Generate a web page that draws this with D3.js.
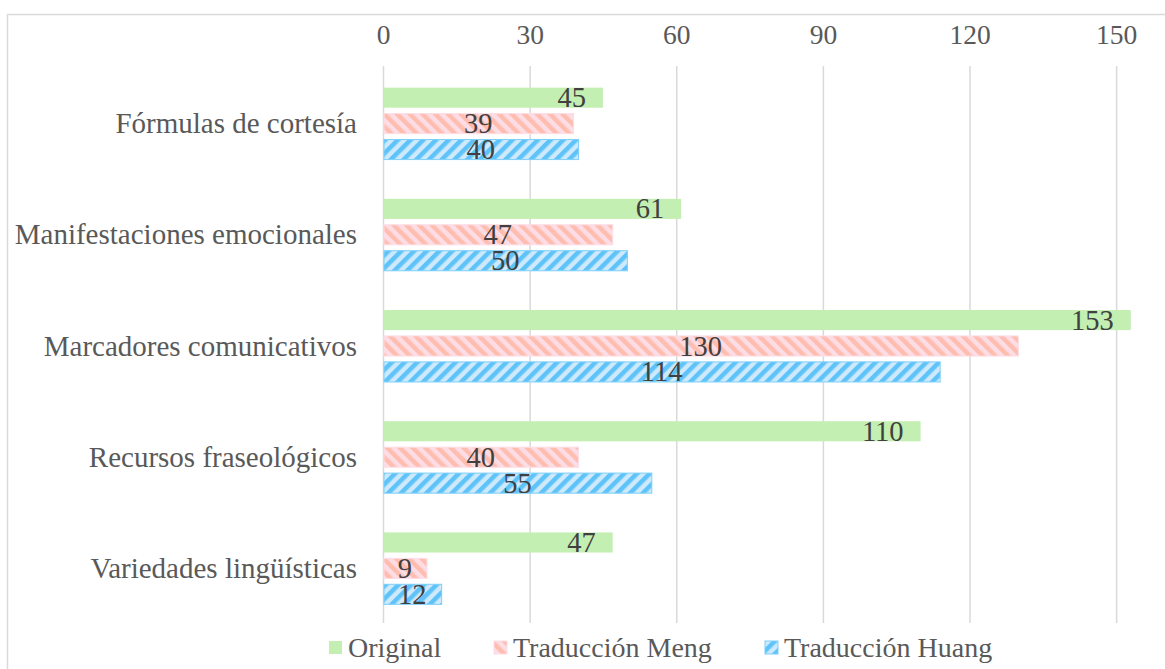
<!DOCTYPE html>
<html><head><meta charset="utf-8">
<script src="https://cdn.jsdelivr.net/npm/d3@7"></script>
<style>body{margin:0;background:#fff;} text{font-family:"Liberation Serif","Times New Roman",serif;}</style>
</head><body>
<svg id="c" width="1165" height="669"></svg>
<script>
const categories = ["Fórmulas de cortesía","Manifestaciones emocionales","Marcadores comunicativos","Recursos fraseológicos","Variedades lingüísticas"];
const series = ["Original","Traducción Meng","Traducción Huang"];
const original = [45,61,153,110,47];
const meng = [39,47,130,40,9];
const huang = [40,50,114,55,12];
const ticks = [0,30,60,90,120,150];

const svg = d3.select("#c");
const defs = svg.append("defs");
function stripes(id, bg, fg, angle){
  const p = defs.append("pattern").attr("id",id).attr("patternUnits","userSpaceOnUse")
    .attr("width",9).attr("height",9).attr("patternTransform",`rotate(${angle})`);
  p.append("rect").attr("width",9).attr("height",9).attr("fill",bg);
  p.append("rect").attr("width",4.5).attr("height",9).attr("fill",fg);
}
stripes("pMeng","#fddde5","#ffbdb0",-45);
stripes("pHuang","#cde9fb","#5ec3f8",45);

const fills = ["#c4efb2","url(#pMeng)","url(#pHuang)"];
const strokes = ["none","#fddde5","#7dcff9"];
const data = [original, meng, huang];

// frame
svg.append("rect").attr("x",7.5).attr("y",14.5).attr("width",1200).attr("height",700)
  .attr("fill","none").attr("stroke","#d9d9d9").attr("stroke-width",1.5);

const x = d3.scaleLinear().domain([0,160]).range([383,1165]);
const y = d3.scaleBand().domain(categories).range([68,624]).paddingInner(0.353).paddingOuter(0.1765);
const yi = d3.scaleBand().domain(series).range([0,y.bandwidth()]).paddingInner(0.225);

// grid
svg.append("g").selectAll("line").data(ticks).join("line")
  .attr("x1",d=>x(d)+0.5).attr("x2",d=>x(d)+0.5).attr("y1",66).attr("y2",623)
  .attr("stroke","#d9d9d9").attr("stroke-width",1.5);

// top axis
const ax = svg.append("g").attr("transform","translate(0,44)")
  .call(d3.axisTop(x).tickValues(ticks).tickSize(0).tickPadding(0));
ax.select(".domain").remove();
ax.selectAll("text").attr("font-size",27.5).attr("fill","#595959").attr("font-family","Liberation Serif");

// category labels
svg.append("g").selectAll("text").data(categories).join("text")
  .attr("x",357).attr("y",d=>y(d)+y.bandwidth()/2+9.5).attr("text-anchor","end")
  .attr("font-size",29).attr("fill","#595959").text(d=>d);

// bars
series.forEach((s,si)=>{
  const g = svg.append("g");
  g.selectAll("rect").data(categories).join("rect")
    .attr("x",x(0)+1).attr("y",(c)=>y(c)+yi(s))
    .attr("width",(c,i)=>x(data[si][i])-x(0)-1).attr("height",yi.bandwidth())
    .attr("fill",fills[si]).attr("stroke",strokes[si]).attr("stroke-width",1);
  g.selectAll("text").data(categories).join("text")
    .attr("x",(c,i)=> si===0 ? x(data[si][i])-17 : (x(0)+x(data[si][i]))/2)
    .attr("y",c=>y(c)+yi(s)+yi.bandwidth()/2+9.5)
    .attr("text-anchor", si===0 ? "end":"middle")
    .attr("font-size",28.5).attr("fill","#404040")
    .text((c,i)=>data[si][i]);
});

// legend
const legX = [329,494,765];
const lg = svg.append("g");
series.forEach((s,i)=>{
  lg.append("rect").attr("x",legX[i]).attr("y",641).attr("width",13).attr("height",13)
    .attr("fill",fills[i]).attr("stroke",strokes[i]);
  lg.append("text").attr("x",legX[i]+19).attr("y",657).attr("font-size",28).attr("fill","#595959").text(s);
});
</script>
</body></html>
